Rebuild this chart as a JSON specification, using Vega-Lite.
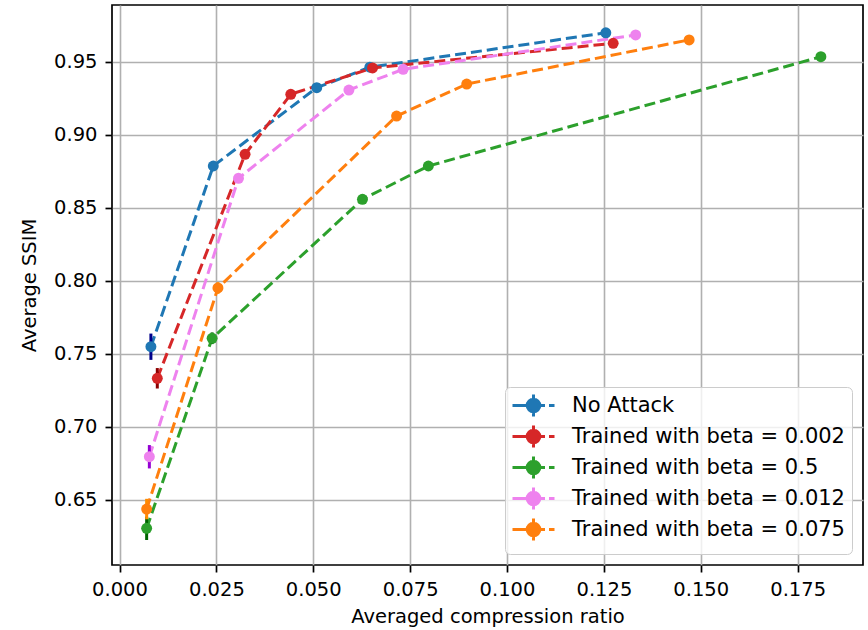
{
  "$schema": "https://vega.github.io/schema/vega-lite/v6.json",
  "width": 751,
  "height": 560,
  "autosize": {"type": "none"},
  "padding": {"left": 112, "top": 5, "right": 5, "bottom": 65},
  "background": "white",
  "data": {
    "values": [
      {"s": "No Attack", "x": 0.0081, "y": 0.7549, "lo": 0.7459, "hi": 0.7639},
      {"s": "No Attack", "x": 0.0242, "y": 0.8786, "lo": 0.8756, "hi": 0.8816},
      {"s": "No Attack", "x": 0.0509, "y": 0.9322, "lo": 0.9302, "hi": 0.9342},
      {"s": "No Attack", "x": 0.0646, "y": 0.9462, "lo": 0.9442, "hi": 0.9482},
      {"s": "No Attack", "x": 0.1255, "y": 0.9698, "lo": 0.9678, "hi": 0.9718},
      {"s": "Trained with beta = 0.002", "x": 0.00975, "y": 0.7333, "lo": 0.7263, "hi": 0.7403},
      {"s": "Trained with beta = 0.002", "x": 0.0324, "y": 0.8866, "lo": 0.8836, "hi": 0.8896},
      {"s": "Trained with beta = 0.002", "x": 0.0442, "y": 0.9277, "lo": 0.9257, "hi": 0.9297},
      {"s": "Trained with beta = 0.002", "x": 0.0653, "y": 0.9457, "lo": 0.9437, "hi": 0.9477},
      {"s": "Trained with beta = 0.002", "x": 0.1274, "y": 0.9626, "lo": 0.9606, "hi": 0.9646},
      {"s": "Trained with beta = 0.5", "x": 0.0070, "y": 0.6306, "lo": 0.6226, "hi": 0.6386},
      {"s": "Trained with beta = 0.5", "x": 0.0239, "y": 0.7607, "lo": 0.7567, "hi": 0.7647},
      {"s": "Trained with beta = 0.5", "x": 0.0627, "y": 0.8558, "lo": 0.8528, "hi": 0.8588},
      {"s": "Trained with beta = 0.5", "x": 0.0797, "y": 0.8786, "lo": 0.8766, "hi": 0.8806},
      {"s": "Trained with beta = 0.5", "x": 0.1810, "y": 0.9534, "lo": 0.9514, "hi": 0.9554},
      {"s": "Trained with beta = 0.012", "x": 0.0077, "y": 0.6796, "lo": 0.6716, "hi": 0.6876},
      {"s": "Trained with beta = 0.012", "x": 0.0307, "y": 0.8702, "lo": 0.8672, "hi": 0.8732},
      {"s": "Trained with beta = 0.012", "x": 0.0592, "y": 0.9306, "lo": 0.9286, "hi": 0.9326},
      {"s": "Trained with beta = 0.012", "x": 0.0732, "y": 0.9448, "lo": 0.9428, "hi": 0.9468},
      {"s": "Trained with beta = 0.012", "x": 0.1332, "y": 0.9683, "lo": 0.9663, "hi": 0.9703},
      {"s": "Trained with beta = 0.075", "x": 0.0070, "y": 0.6438, "lo": 0.6368, "hi": 0.6508},
      {"s": "Trained with beta = 0.075", "x": 0.0254, "y": 0.7951, "lo": 0.7911, "hi": 0.7991},
      {"s": "Trained with beta = 0.075", "x": 0.0715, "y": 0.9128, "lo": 0.9108, "hi": 0.9148},
      {"s": "Trained with beta = 0.075", "x": 0.0896, "y": 0.9347, "lo": 0.9327, "hi": 0.9367},
      {"s": "Trained with beta = 0.075", "x": 0.1470, "y": 0.9649, "lo": 0.9629, "hi": 0.9669}
    ]
  },
  "encoding": {
    "x": {
      "field": "x", "type": "quantitative",
      "scale": {"domain": [-0.00194, 0.19187], "nice": false, "zero": false},
      "axis": {
        "values": [0, 0.025, 0.05, 0.075, 0.1, 0.125, 0.15, 0.175],
        "format": ".3f",
        "title": "Averaged compression ratio",
        "titlePadding": 9
      }
    },
    "y": {
      "field": "y", "type": "quantitative",
      "scale": {"domain": [0.6055, 0.9888], "nice": false, "zero": false},
      "axis": {
        "values": [0.65, 0.7, 0.75, 0.8, 0.85, 0.9, 0.95],
        "format": ".2f",
        "title": "Average SSIM",
        "titlePadding": 14
      }
    }
  },
  "layer": [
    {
      "mark": {"type": "line", "strokeDash": [11, 5], "strokeWidth": 3},
      "encoding": {
        "color": {
          "field": "s", "type": "nominal",
          "scale": {
            "domain": ["No Attack", "Trained with beta = 0.002", "Trained with beta = 0.5", "Trained with beta = 0.012", "Trained with beta = 0.075"],
            "range": ["#1f77b4", "#d62728", "#2ca02c", "#ee82ee", "#ff7f0e"]
          },
          "legend": {"title": null}
        }
      }
    },
    {
      "mark": {"type": "rule", "strokeWidth": 3},
      "encoding": {
        "y": {"field": "lo", "type": "quantitative"},
        "y2": {"field": "hi"},
        "stroke": {
          "field": "s", "type": "nominal", "legend": null,
          "scale": {
            "domain": ["No Attack", "Trained with beta = 0.002", "Trained with beta = 0.5", "Trained with beta = 0.012", "Trained with beta = 0.075"],
            "range": ["#00008b", "#8b0000", "#006400", "#9400d3", "#ff8c00"]
          }
        }
      }
    },
    {
      "mark": {"type": "point", "filled": true, "opacity": 1, "size": 120, "shape": "circle"},
      "encoding": {
        "color": {"field": "s", "type": "nominal", "legend": {"title": null}}
      }
    }
  ],
  "config": {
    "font": "DejaVu Sans",
    "view": {"stroke": "black", "strokeWidth": 1.7},
    "axis": {
      "domain": false,
      "grid": true,
      "gridColor": "#b0b0b0",
      "gridWidth": 1.6,
      "tickColor": "black",
      "tickWidth": 1.7,
      "tickSize": 7,
      "labelFont": "DejaVu Sans",
      "labelFontSize": 19.5,
      "labelColor": "black",
      "labelPadding": 8,
      "titleFont": "DejaVu Sans",
      "titleFontSize": 19.5,
      "titleFontWeight": "normal",
      "titleColor": "black"
    },
    "legend": {
      "orient": "bottom-right",
      "offset": 11,
      "fillColor": "rgba(255,255,255,0.8)",
      "strokeColor": "#cccccc",
      "cornerRadius": 5,
      "padding": 7,
      "labelFont": "DejaVu Sans",
      "labelFontSize": 21,
      "labelColor": "black",
      "labelLimit": 400,
      "labelOffset": 27,
      "symbolOffset": 10,
      "rowPadding": -4,
      "symbolSize": 400,
      "symbolStrokeWidth": 3,
      "symbolDash": [],
      "symbolType": "M-2.1,0H-0.63M0.63,0H1.15M1.55,0H2.1M0,-1.1V1.1M0.63,0A0.63,0.63,0,1,1,-0.63,0A0.63,0.63,0,1,1,0.63,0Z"
    }
  }
}
